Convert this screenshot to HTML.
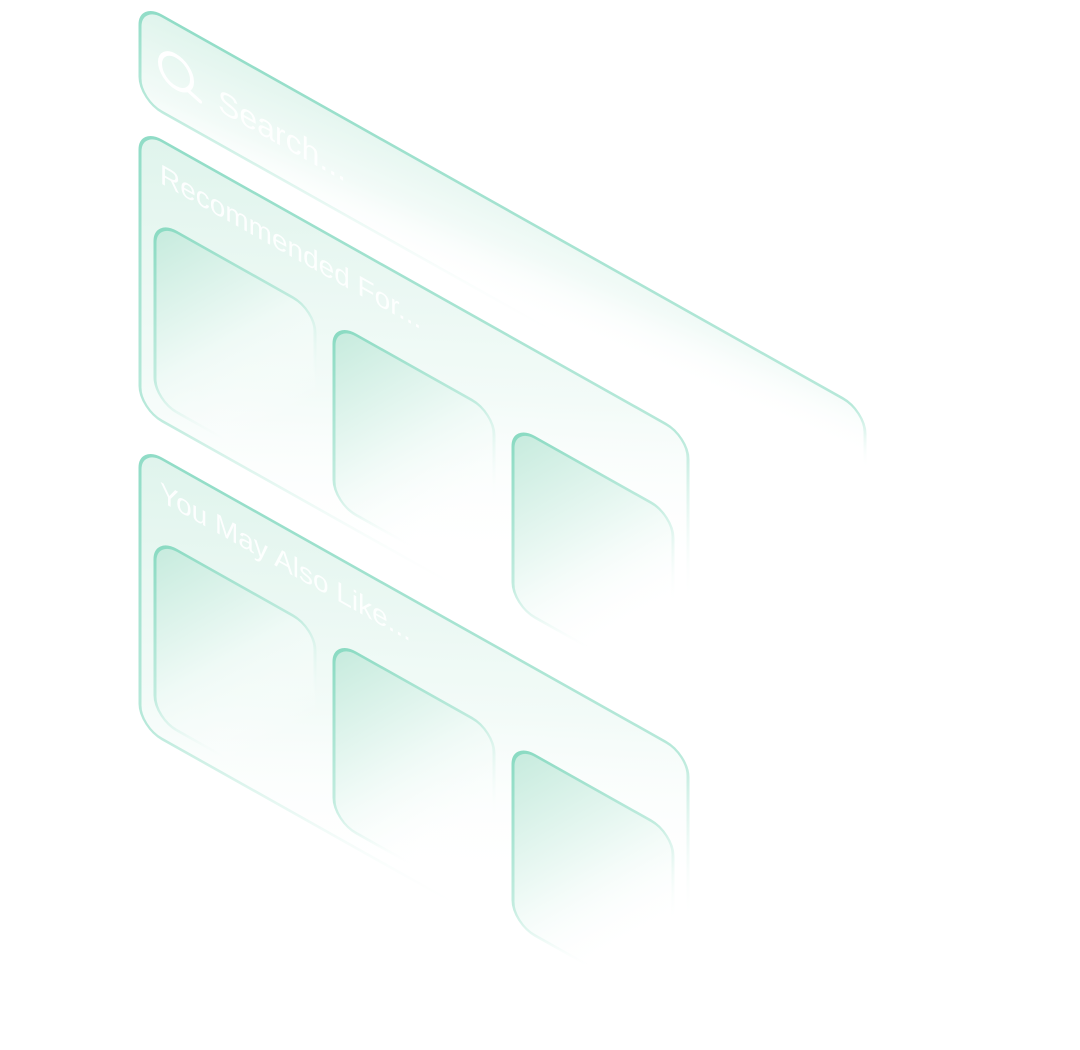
<!DOCTYPE html>
<html><head><meta charset="utf-8"><style>
html,body{margin:0;padding:0;background:#fff;width:1080px;height:1050px;overflow:hidden}
svg{display:block}
text{font-family:"Liberation Sans",sans-serif}
</style></head><body>
<svg width="1080" height="1050" viewBox="0 0 1080 1050" xmlns="http://www.w3.org/2000/svg">
<defs>
<linearGradient id="pf" x1="0" y1="0" x2="1" y2="1">
<stop offset="0" stop-color="#dff4ec"/><stop offset="0.45" stop-color="#f3fbf8"/><stop offset="0.75" stop-color="#ffffff" stop-opacity="0"/>
</linearGradient>
<linearGradient id="ps" x1="0" y1="0" x2="1" y2="1">
<stop offset="0" stop-color="#8fdcc6"/><stop offset="0.5" stop-color="#b8e9da"/><stop offset="0.8" stop-color="#ffffff" stop-opacity="0"/>
</linearGradient>
<linearGradient id="cf" x1="0" y1="0" x2="1" y2="1">
<stop offset="0" stop-color="#c4eadc"/><stop offset="0.45" stop-color="#effaf6"/><stop offset="0.75" stop-color="#ffffff" stop-opacity="0"/>
</linearGradient>
<linearGradient id="cs" x1="0" y1="0" x2="1" y2="1">
<stop offset="0" stop-color="#86d9c0"/><stop offset="0.45" stop-color="#c2ecdf"/><stop offset="0.75" stop-color="#ffffff" stop-opacity="0"/>
</linearGradient>
</defs>
<g transform="matrix(1,0.5617,0,1,0,0)">
<rect x="140" y="-75" width="725" height="96" rx="22" fill="url(#pf)" stroke="url(#ps)" stroke-width="3"/>
<circle cx="176" cy="-27" r="16" fill="none" stroke="#fff" stroke-width="4"/>
<line x1="188" y1="-15" x2="200" y2="-11" stroke="#fff" stroke-width="4" stroke-linecap="round"/>
<text x="218" y="-12" font-size="32" fill="#fff" fill-opacity="0.9">Search...</text>
<rect x="140" y="50" width="548" height="280" rx="22" fill="url(#pf)" stroke="url(#ps)" stroke-width="3"/>
<text x="160" y="93" font-size="28" fill="#fff" fill-opacity="0.9">Recommended For...</text>
<rect x="155" y="133" width="160" height="180" rx="22" fill="url(#cf)" stroke="url(#cs)" stroke-width="3"/>
<rect x="334" y="135" width="160" height="180" rx="22" fill="url(#cf)" stroke="url(#cs)" stroke-width="3"/>
<rect x="513" y="137" width="160" height="180" rx="22" fill="url(#cf)" stroke="url(#cs)" stroke-width="3"/>
<rect x="140" y="368" width="548" height="280" rx="22" fill="url(#pf)" stroke="url(#ps)" stroke-width="3"/>
<text x="160" y="411" font-size="28" fill="#fff" fill-opacity="0.9">You May Also Like...</text>
<rect x="155" y="451" width="160" height="180" rx="22" fill="url(#cf)" stroke="url(#cs)" stroke-width="3"/>
<rect x="334" y="453" width="160" height="180" rx="22" fill="url(#cf)" stroke="url(#cs)" stroke-width="3"/>
<rect x="513" y="455" width="160" height="180" rx="22" fill="url(#cf)" stroke="url(#cs)" stroke-width="3"/>
</g>
</svg>
</body></html>
